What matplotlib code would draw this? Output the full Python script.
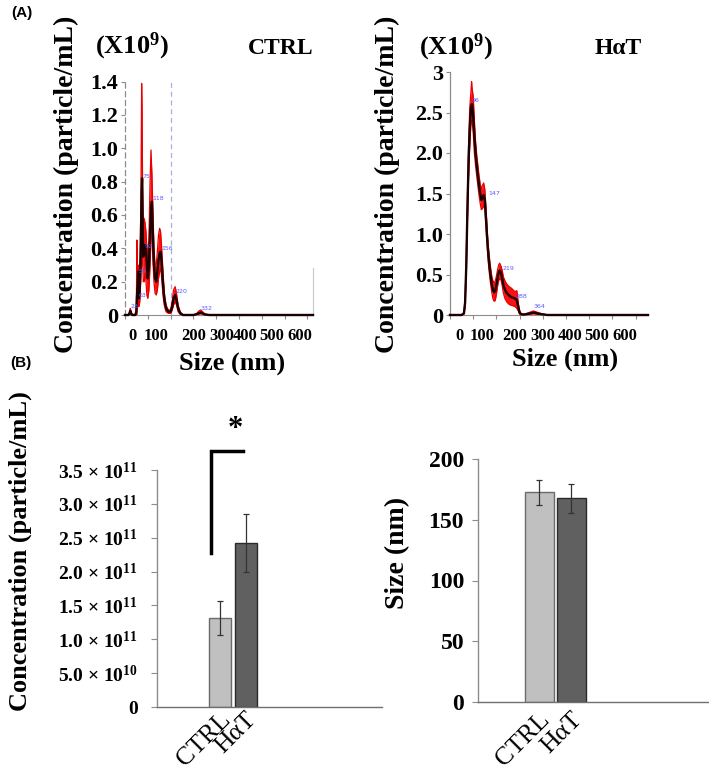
import matplotlib
matplotlib.use('Agg')
import matplotlib.pyplot as plt
import matplotlib.transforms as mtransforms
import numpy as np

plt.rcParams['font.family'] = ['Liberation Serif', 'DejaVu Serif']
plt.rcParams['font.weight'] = 'bold'
plt.rcParams['mathtext.fontset'] = 'custom'
plt.rcParams['mathtext.rm'] = 'Liberation Serif:bold'
plt.rcParams['mathtext.it'] = 'Liberation Serif:bold:italic'
plt.rcParams['mathtext.bf'] = 'Liberation Serif:bold'

# ---------------- DATA ----------------
# (A) CTRL NTA size distribution (size in nm, concentration x10^9 particle/mL)
ctrl_size = [0, 15, 20, 23, 27, 32, 45, 50, 52, 54, 56, 58, 60, 63, 66, 70, 73, 75, 77, 80,
             84, 88, 92, 96, 100, 105, 110, 114, 118, 122, 127, 132, 137, 142, 147, 152, 156,
             160, 166, 172, 180, 190, 200, 207, 213, 220, 226, 233, 242, 255, 270, 300, 315,
             325, 332, 340, 350, 370, 825]
ctrl_mean = [0, 0, 0.01, 0.025, 0.01, 0, 0, 0.02, 0.10, 0.15, 0.18, 0.26, 0.10, 0.12, 0.20, 0.45,
             0.75, 0.82, 0.60, 0.35, 0.38, 0.42, 0.40, 0.30, 0.22, 0.30, 0.50, 0.62, 0.68, 0.50,
             0.30, 0.22, 0.20, 0.26, 0.33, 0.37, 0.38, 0.33, 0.20, 0.10, 0.04, 0.02, 0.02, 0.05,
             0.10, 0.12, 0.09, 0.04, 0.01, 0, 0, 0, 0.005, 0.012, 0.015, 0.01, 0.003, 0, 0]
ctrl_upper = [0, 0, 0.02, 0.04, 0.02, 0, 0, 0.05, 0.45, 0.20, 0.25, 0.30, 0.15, 0.20, 0.35, 0.70,
              1.39, 1.20, 0.80, 0.50, 0.58, 0.55, 0.50, 0.40, 0.35, 0.45, 0.80, 0.99, 0.85, 0.65,
              0.40, 0.30, 0.30, 0.38, 0.48, 0.52, 0.50, 0.42, 0.28, 0.14, 0.06, 0.03, 0.03, 0.08,
              0.15, 0.17, 0.13, 0.06, 0.02, 0, 0, 0, 0.01, 0.025, 0.03, 0.02, 0.008, 0, 0]
ctrl_lower = [0, 0, 0, 0.01, 0, 0, 0, 0, 0, 0.10, 0.12, 0.20, 0.05, 0.06, 0.10, 0.25,
              0.30, 0.50, 0.40, 0.20, 0.20, 0.25, 0.20, 0.12, 0.10, 0.15, 0.30, 0.45, 0.55, 0.35,
              0.20, 0.13, 0.12, 0.15, 0.22, 0.26, 0.28, 0.24, 0.13, 0.06, 0.02, 0.01, 0.01, 0.03,
              0.06, 0.08, 0.06, 0.02, 0.005, 0, 0, 0, 0, 0.005, 0.008, 0.005, 0, 0, 0]
ctrl_peak_nm = [23, 59, 59, 75, 84, 118, 160, 220, 332]
ctrl_peak_conc = [0.05, 0.26, 0.12, 0.83, 0.41, 0.70, 0.40, 0.14, 0.04]
ctrl_peak_text = ['23', '59', '63', '75', '92', '118', '156', '220', '332']

# (A) HaT NTA size distribution
hat_size = [0, 50, 60, 65, 70, 75, 80, 85, 90, 93, 95, 100, 105, 110, 115, 120, 125, 130, 135,
            140, 145, 150, 155, 160, 165, 170, 175, 180, 185, 190, 195, 200, 205, 210, 214,
            220, 225, 230, 237, 245, 255, 265, 275, 282, 288, 294, 300, 306, 315, 330, 345,
            360, 375, 395, 420, 853]
hat_mean = [0, 0, 0.02, 0.15, 0.60, 1.30, 1.90, 2.30, 2.55, 2.60, 2.60, 2.45, 2.20, 2.00, 1.85,
            1.72, 1.60, 1.50, 1.42, 1.44, 1.48, 1.42, 1.20, 0.95, 0.75, 0.60, 0.48, 0.38, 0.31,
            0.28, 0.30, 0.37, 0.46, 0.53, 0.55, 0.52, 0.45, 0.37, 0.31, 0.27, 0.24, 0.22, 0.21,
            0.20, 0.18, 0.10, 0.03, 0.01, 0.005, 0.01, 0.02, 0.03, 0.02, 0.01, 0, 0]
hat_upper = [0, 0, 0.03, 0.20, 0.70, 1.45, 2.10, 2.55, 2.75, 2.88, 2.80, 2.70, 2.40, 2.15, 1.98,
             1.85, 1.72, 1.62, 1.55, 1.60, 1.63, 1.55, 1.32, 1.05, 0.85, 0.70, 0.58, 0.48, 0.42,
             0.40, 0.42, 0.48, 0.56, 0.62, 0.64, 0.60, 0.55, 0.47, 0.42, 0.38, 0.35, 0.33, 0.30,
             0.29, 0.30, 0.15, 0.05, 0.02, 0.01, 0.02, 0.035, 0.05, 0.035, 0.015, 0, 0]
hat_lower = [0, 0, 0.01, 0.10, 0.50, 1.15, 1.70, 2.10, 2.35, 2.40, 2.40, 2.25, 2.00, 1.85, 1.72,
             1.60, 1.48, 1.38, 1.30, 1.32, 1.35, 1.30, 1.08, 0.85, 0.65, 0.50, 0.38, 0.28, 0.20,
             0.17, 0.18, 0.26, 0.36, 0.43, 0.45, 0.43, 0.36, 0.27, 0.20, 0.16, 0.13, 0.12, 0.11,
             0.10, 0.08, 0.05, 0.01, 0, 0, 0, 0.01, 0.015, 0.01, 0, 0, 0]
hat_peak_nm = [95, 164, 228, 284, 358]
hat_peak_conc = [2.65, 1.50, 0.57, 0.23, 0.10]
hat_peak_text = ['96', '147', '219', '288', '364']

size_tick_labels = ['0', '100', '200', '300', '400', '500', '600']
ctrl_yticks = [0, 0.2, 0.4, 0.6, 0.8, 1.0, 1.2, 1.4]
ctrl_ytick_labels = ['0', '0.2', '0.4', '0.6', '0.8', '1.0', '1.2', '1.4']
hat_yticks = [0, 0.5, 1.0, 1.5, 2.0, 2.5, 3.0]
hat_ytick_labels = ['0', '0.5', '1.0', '1.5', '2.0', '2.5', '3']

# (B) bar charts
groups = ['CTRL', 'HαT']
conc_mean = [1.32e11, 2.42e11]
conc_err = [0.25e11, 0.43e11]
conc_ticks = [0, 0.5e11, 1.0e11, 1.5e11, 2.0e11, 2.5e11, 3.0e11, 3.5e11]
conc_tick_labels = ['0', '5.0 × 10$^{10}$', '1.0 × 10$^{11}$', '1.5 × 10$^{11}$',
                    '2.0 × 10$^{11}$', '2.5 × 10$^{11}$', '3.0 × 10$^{11}$', '3.5 × 10$^{11}$']
size_mean = [172.5, 167.5]
size_err = [10.0, 12.0]
size_ticks = [0, 50, 100, 150, 200]

# ---------------- FIGURE ----------------
W, H = 709, 774
fig = plt.figure(figsize=(W / 100, H / 100), dpi=100)


def box(l, t, r, b):
    return [l / W, 1 - b / H, (r - l) / W, (b - t) / H]


def ftext(px, py, s, **kw):
    fig.text(px / W, 1 - py / H, s, **kw)


RED = '#ff1010'
GRAY = '#8c8c8c'


def nta(ax, size, mean, lo, hi, xmax, ymax, yticks, ylabels, lab_pos,
        pk_x, pk_y, pk_t, dashed_left):
    ax.fill_between(size, lo, hi, color=RED, lw=0, zorder=2)
    ax.plot(size, hi, color='#e80000', lw=0.9, zorder=2)
    ax.plot(size, lo, color='#e80000', lw=0.9, zorder=2)
    ax.plot(size, mean, color='#1a0000', lw=1.7, zorder=3, clip_on=False,
            solid_joinstyle='round')
    ax.set_xlim(0, xmax)
    ax.set_ylim(0, ymax)
    for s in ['top', 'right']:
        ax.spines[s].set_visible(False)
    ax.spines['left'].set_color(GRAY)
    ax.spines['bottom'].set_color(GRAY)
    ax.spines['left'].set_linewidth(0.9)
    if dashed_left:
        ax.spines['left'].set_linestyle((0, (4, 3)))
    ax.set_xticks(np.arange(0, 801, 100))
    ax.set_xticklabels([])
    ax.set_xticks(lab_pos, size_tick_labels, minor=True)
    ax.tick_params(axis='x', which='major', length=3, color=GRAY, width=0.8)
    ax.tick_params(axis='x', which='minor', length=0, pad=9, labelsize=12)
    ax.set_yticks(yticks, ylabels)
    ax.tick_params(axis='y', length=3, color=GRAY, width=0.8, pad=2, labelsize=16)
    for x, y, t in zip(pk_x, pk_y, pk_t):
        ax.text(x, y, t, fontsize=4.5, color='#5a5aff', ha='left', va='center',
                family='DejaVu Sans', fontweight='normal', zorder=4)


ax1 = fig.add_axes(box(125, 80, 313, 315))
nta(ax1, ctrl_size, ctrl_mean, ctrl_lower, ctrl_upper, 825, 1.41,
    ctrl_yticks, ctrl_ytick_labels, [32, 135, 302, 424, 529, 643, 768],
    ctrl_peak_nm, ctrl_peak_conc, ctrl_peak_text, True)
ax1.axvline(202, color='#aab0dd', lw=0.9, ls=(0, (4, 3)), zorder=1)
ax1.plot([825, 825], [0, 0.28], color='#c8c8c8', lw=0.8, clip_on=False, zorder=1)

ax2 = fig.add_axes(box(450, 72, 648, 315))
nta(ax2, hat_size, hat_mean, hat_lower, hat_upper, 853, 3.0,
    hat_yticks, hat_ytick_labels, [39, 136, 280, 398, 517, 632, 753],
    hat_peak_nm, hat_peak_conc, hat_peak_text, False)

# texts of panel A
ftext(22, 13, '(A)', family='Liberation Sans', fontsize=11, ha='center', va='center')
ftext(21, 363, '(B)', family='Liberation Sans', fontsize=11, ha='center', va='center')
ftext(132, 46, '(X10$^{9}$)', fontsize=19, ha='center', va='center')
ftext(281, 49, 'CTRL', fontsize=17, ha='center', va='center')
ftext(456, 47, '(X10$^{9}$)', fontsize=19, ha='center', va='center')
ftext(618, 49, 'HαT', fontsize=17, ha='center', va='center')
ftext(66, 184, 'Concentration (particle/mL)', fontsize=20, rotation=90, ha='center', va='center')
ftext(387, 184, 'Concentration (particle/mL)', fontsize=20, rotation=90, ha='center', va='center')
ftext(232, 363, 'Size (nm)', fontsize=19, ha='center', va='center')
ftext(565, 359, 'Size (nm)', fontsize=19, ha='center', va='center')

# ---------------- PANEL B ----------------
bar_colors = ['#c0c0c0', '#606060']
bar_edges = ['#6a6a6a', '#2a2a2a']


def bars(ax, means, errs, width, xlim, ymax, ticks, tlabels, tsize, tpad, dy):
    x = np.arange(len(groups))
    ax.bar(x, means, width=width, color=bar_colors, edgecolor=bar_edges, lw=1.0,
           yerr=errs, error_kw=dict(ecolor='#333333', elinewidth=0.9, capsize=2.5,
                                    capthick=0.9), zorder=2)
    ax.set_xlim(*xlim)
    ax.set_ylim(0, ymax)
    for s in ['top', 'right']:
        ax.spines[s].set_visible(False)
    ax.spines['left'].set_color(GRAY)
    ax.spines['bottom'].set_color('#707070')
    ax.spines['left'].set_linewidth(1.0)
    ax.spines['bottom'].set_linewidth(1.0)
    ax.set_yticks(ticks, tlabels)
    ax.tick_params(axis='y', length=4, color=GRAY, width=0.8, pad=tpad, labelsize=tsize)
    ax.set_xticks(x, groups)
    ax.tick_params(axis='x', length=0, pad=6, labelsize=18.5)
    off = mtransforms.ScaledTranslation(0.15, dy, fig.dpi_scale_trans)
    for lab in ax.get_xticklabels():
        lab.set_rotation(45)
        lab.set_ha('right')
        lab.set_fontweight('normal')
        lab.set_transform(lab.get_transform() + off)


ax3 = fig.add_axes(box(157, 470, 382, 707))
bars(ax3, conc_mean, conc_err, 0.85, (-2.42, 6.23), 3.5e11, conc_ticks,
     conc_tick_labels, 14, 10, 0.07)
ax3.plot([-0.35, -0.35, 0.88], [2.28e11, 3.78e11, 3.78e11], color='black', lw=2.5,
         clip_on=False, solid_joinstyle='miter')
ax3.text(0.58, 4.10e11, '*', fontsize=22, ha='center', va='center', clip_on=False)
ftext(20, 551, 'Concentration (particle/mL)', fontsize=19, rotation=90, ha='center', va='center')

ax4 = fig.add_axes(box(478, 459, 708, 702))
bars(ax4, size_mean, size_err, 0.9, (-1.92, 5.27), 200, size_ticks,
     [str(t) for t in size_ticks], 17, 6, 0.02)
ftext(398, 553, 'Size (nm)', fontsize=20, rotation=90, ha='center', va='center')

fig.savefig('out.png', dpi=100)
